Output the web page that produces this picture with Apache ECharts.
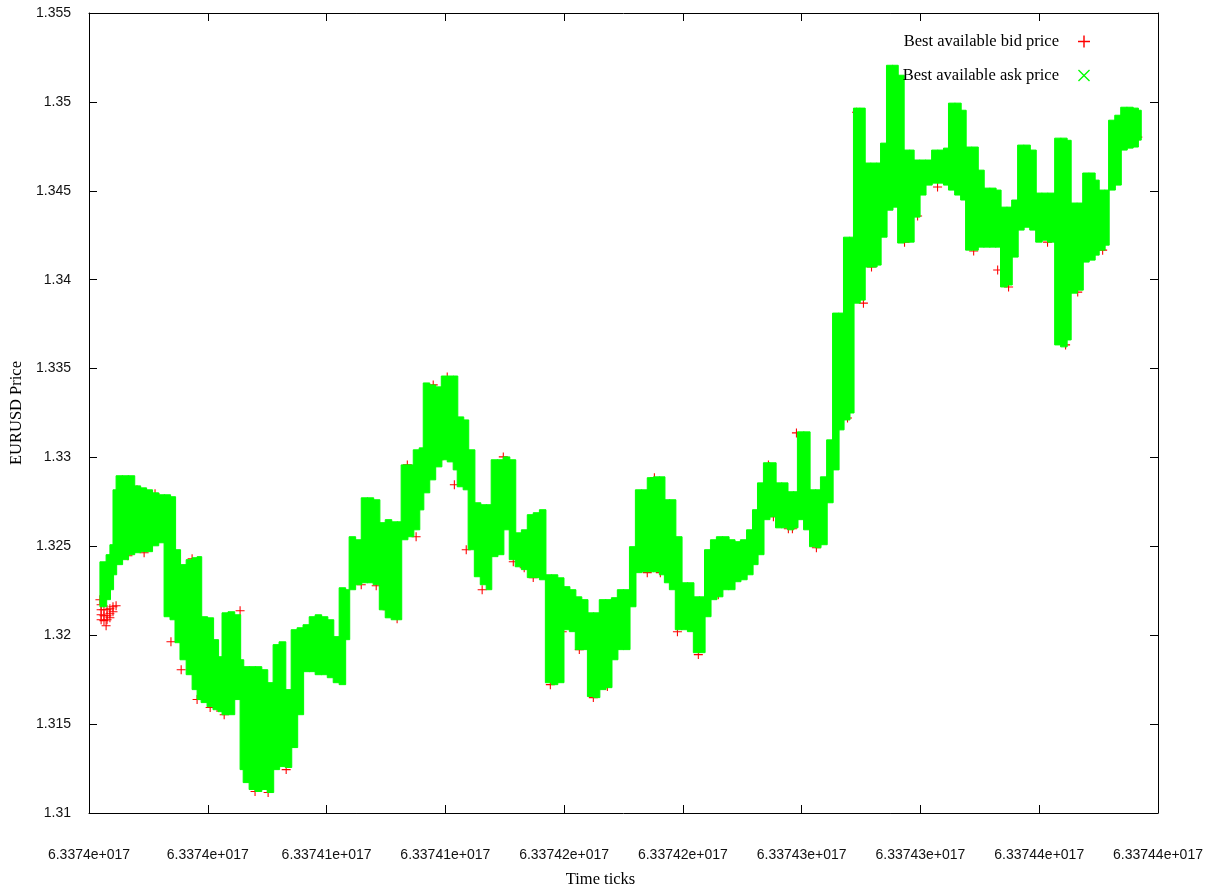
<!DOCTYPE html>
<html><head><meta charset="utf-8">
<script src="https://cdn.jsdelivr.net/npm/echarts@6/dist/echarts.min.js"></script>
<style>html,body{margin:0;padding:0;background:#fff}#c{width:1213px;height:893px}</style>
</head><body><div id="c"></div>
<script>
// x tick labels (time ticks, every 5e11 from 6.3374e17)
const TICK_LABELS = ["6.3374e+017","6.3374e+017","6.33741e+017","6.33741e+017","6.33742e+017","6.33742e+017","6.33743e+017","6.33743e+017","6.33744e+017","6.33744e+017"];
// sample start times, in units of 1e11 ticks after 6.3374e17
const TIME = [0.46,0.72,0.88,1.01,1.14,1.39,1.64,1.90,2.15,2.40,2.65,2.91,3.16,3.41,3.62,3.83,4.09,4.34,4.55,4.72,4.97,5.22,5.43,5.60,5.85,6.11,6.36,6.49,6.74,6.99,7.25,7.50,7.75,8.00,8.26,8.51,8.76,9.01,9.27,9.52,9.77,10.03,10.28,10.53,10.78,10.95,11.20,11.46,11.71,11.96,12.22,12.47,12.72,12.97,13.14,13.40,13.65,13.90,14.07,14.32,14.57,14.83,15.08,15.33,15.50,15.75,15.96,16.22,16.47,16.72,16.93,17.19,17.44,17.69,17.94,18.20,18.45,18.70,18.96,19.21,19.46,19.71,19.97,20.22,20.47,20.72,20.98,21.23,21.48,21.74,21.99,22.24,22.49,22.75,23.00,23.25,23.50,23.76,24.01,24.22,24.43,24.68,24.94,25.19,25.44,25.69,25.91,26.16,26.41,26.66,26.92,27.17,27.42,27.68,27.93,28.14,28.39,28.64,28.90,29.15,29.40,29.65,29.82,30.08,30.33,30.58,30.79,31.05,31.30,31.55,31.76,32.01,32.18,32.44,32.65,32.90,33.15,33.32,33.57,33.82,34.04,34.29,34.54,34.71,34.96,35.21,35.47,35.72,35.97,36.18,36.44,36.69,36.90,37.15,37.41,37.66,37.91,38.16,38.37,38.63,38.84,39.09,39.34,39.60,39.85,40.10,40.35,40.65,40.90,41.15,41.32,41.58,41.83,42.08,42.33,42.50,42.75,42.92,43.18,43.43,43.68,43.93,44.15];
const TIME_END = 44.27;
// best available ask price: highest and lowest in each sample window
const ASK_HIGH = [1.32413,1.32453,1.32509,1.32818,1.32897,1.32897,1.32897,1.32840,1.32829,1.32818,
1.32801,1.32790,1.32790,1.32779,1.32481,1.32397,1.32425,1.32436,1.32442,1.32104,
1.32098,1.31975,1.31879,1.32126,1.32132,1.32115,1.31862,1.31823,1.31823,1.31823,
1.31806,1.31733,1.31947,1.31963,1.31694,1.32031,1.32042,1.32059,1.32104,1.32115,
1.32104,1.32087,1.31992,1.32267,1.32256,1.32554,1.32537,1.32773,1.32773,1.32762,
1.32633,1.32650,1.32638,1.32638,1.32958,1.32958,1.33043,1.33054,1.33419,1.33408,
1.33397,1.33458,1.33458,1.33458,1.33228,1.33211,1.33043,1.32745,1.32734,1.32734,
1.32987,1.32987,1.33003,1.32987,1.32576,1.32593,1.32678,1.32689,1.32706,1.32340,
1.32340,1.32323,1.32273,1.32256,1.32216,1.32200,1.32126,1.32126,1.32200,1.32200,
1.32211,1.32256,1.32256,1.32498,1.32818,1.32818,1.32886,1.32891,1.32891,1.32762,
1.32762,1.32554,1.32295,1.32295,1.32216,1.32216,1.32481,1.32537,1.32554,1.32554,
1.32537,1.32526,1.32537,1.32593,1.32706,1.32857,1.32970,1.32970,1.32857,1.32857,
1.32807,1.32807,1.33144,1.33144,1.32818,1.32818,1.32891,1.33099,1.33812,1.33812,
1.34239,1.34239,1.34965,1.34965,1.34656,1.34656,1.34656,1.34768,1.35206,1.35206,
1.35150,1.34729,1.34729,1.34673,1.34673,1.34673,1.34729,1.34729,1.34740,1.34993,
1.34993,1.34953,1.34746,1.34746,1.34616,1.34515,1.34515,1.34504,1.34408,1.34408,
1.34448,1.34757,1.34757,1.34729,1.34487,1.34487,1.34487,1.34796,1.34796,1.34784,
1.34431,1.34431,1.34600,1.34600,1.34560,1.34504,1.34504,1.34897,1.34925,1.34970,
1.34970,1.34965,1.34953];
const ASK_LOW = [1.32160,1.32200,1.32256,1.32340,1.32397,1.32425,1.32453,1.32464,1.32470,1.32470,
1.32503,1.32520,1.32104,1.32087,1.31958,1.31862,1.31778,1.31694,1.31638,1.31621,
1.31598,1.31581,1.31570,1.31553,1.31553,1.31638,1.31244,1.31171,1.31132,1.31121,
1.31132,1.31115,1.31244,1.31261,1.31256,1.31368,1.31553,1.31795,1.31795,1.31778,
1.31778,1.31761,1.31733,1.31722,1.31975,1.32256,1.32284,1.32295,1.32295,1.32284,
1.32143,1.32098,1.32087,1.32087,1.32537,1.32554,1.32593,1.32705,1.32801,1.32874,
1.32947,1.32987,1.32975,1.32930,1.32835,1.32818,1.32481,1.32329,1.32284,1.32256,
1.32442,1.32453,1.32593,1.32425,1.32385,1.32369,1.32324,1.32324,1.32312,1.31733,
1.31722,1.31733,1.32031,1.32020,1.31919,1.31919,1.31655,1.31649,1.31694,1.31705,
1.31862,1.31919,1.31919,1.32160,1.32352,1.32357,1.32357,1.32357,1.32340,1.32295,
1.32256,1.32031,1.32031,1.32020,1.31902,1.31902,1.32104,1.32200,1.32216,1.32256,
1.32256,1.32301,1.32312,1.32340,1.32397,1.32453,1.32650,1.32666,1.32604,1.32604,
1.32593,1.32604,1.32650,1.32593,1.32498,1.32492,1.32509,1.32745,1.32930,1.33155,
1.33211,1.33250,1.33868,1.33885,1.34071,1.34071,1.34082,1.34239,1.34391,1.34408,
1.34206,1.34211,1.34211,1.34352,1.34476,1.34532,1.34543,1.34543,1.34532,1.34504,
1.34476,1.34448,1.34166,1.34166,1.34183,1.34183,1.34183,1.34183,1.33959,1.33970,
1.34127,1.34279,1.34295,1.34279,1.34211,1.34222,1.34211,1.33633,1.33622,1.33661,
1.33924,1.33941,1.34099,1.34110,1.34138,1.34166,1.34194,1.34504,1.34532,1.34729,
1.34740,1.34746,1.34785];
// visible best available bid price points
const BID_TIME = [0.51,0.63,0.76,0.88,1.01,1.14,0.51,0.63,0.76,0.88,1.01,0.51,0.63,0.76,0.88,0.72,0.46,0.51,
1.64,2.32,2.02,2.78,3.88,4.55,5.10,5.39,5.69,3.45,6.99,7.54,8.30,6.36,4.34,11.46,12.09,12.55,12.97,13.77,14.74,15.38,15.88,16.55,14.49,15.08,13.40,17.86,18.32,18.70,19.42,19.92,20.64,21.23,21.82,23.50,24.05,24.77,25.65,26.49,23.80,17.44,28.81,29.44,29.61,30.62,31.93,32.60,32.94,28.60,29.78,32.31,27.34,34.33,34.88,35.72,36.27,37.24,37.62,38.25,38.71,40.35,40.86,41.11,41.62,42.67,43.93,44.15];
const BID_PRICE = [1.32143,1.32143,1.32143,1.32149,1.32160,1.32166,1.32115,1.32110,1.32110,1.32121,1.32132,1.32087,1.32082,1.32087,1.32098,1.32053,1.32200,1.32171,
1.32447,1.32464,1.32818,1.32796,1.31806,1.31638,1.31593,1.31593,1.31553,1.31963,1.31121,1.31115,1.31244,1.32138,1.32430,1.32284,1.32278,1.32143,1.32093,1.32554,1.32987,1.32846,1.32481,1.32256,1.33408,1.33453,1.32958,1.32413,1.32380,1.32324,1.31722,1.32020,1.31919,1.31649,1.31711,1.32352,1.32352,1.32020,1.31891,1.32228,1.32886,1.33003,1.32666,1.32599,1.32599,1.32492,1.33222,1.33868,1.34071,1.32958,1.33138,1.34942,1.32340,1.34211,1.34358,1.34521,1.34543,1.34161,1.34222,1.34054,1.33959,1.34211,1.34768,1.33633,1.33930,1.34166,1.34768,1.34802];

const PLUS = 'path://M0,4.4H10V5.6H0Z M4.4,0H5.6V10H4.4Z';
const CROSS = 'path://M0,0.8L0.8,0L10,9.2L9.2,10Z M9.2,0L10,0.8L0.8,10L0,9.2Z';

const askData = TIME.map((t, i) => [t, i + 1 < TIME.length ? TIME[i + 1] : TIME_END, ASK_LOW[i], ASK_HIGH[i]]);
const bidData = BID_TIME.map((t, i) => [t, BID_PRICE[i]]);

const tickFont = {fontFamily: 'Liberation Sans', fontSize: 14, color: '#111'};
const axisCommon = {
  axisLine: {show: true, onZero: false, lineStyle: {color: '#000', width: 1}},
  axisTick: {show: true, inside: true, length: 8, lineStyle: {color: '#000', width: 1}},
  splitLine: {show: false}
};

const chart = echarts.init(document.getElementById('c'), null, {renderer: 'canvas'});
chart.setOption({
  animation: false,
  backgroundColor: '#fff',
  grid: {left: 89, right: 55, top: 13, bottom: 79},
  legend: {
    orient: 'vertical', right: 118, top: 28, align: 'right',
    itemWidth: 12, itemHeight: 12, itemGap: 17,
    textStyle: {fontFamily: 'Liberation Serif', fontSize: 16.5, color: '#000', padding: [0, 14, 0, 0]},
    data: [{name: 'Best available bid price', icon: PLUS}, {name: 'Best available ask price', icon: CROSS}]
  },
  xAxis: [
    Object.assign({type: 'value', min: 0, max: 45, interval: 5, position: 'bottom',
      axisLabel: Object.assign({margin: 35, formatter: v => TICK_LABELS[Math.round(v / 5)]}, tickFont),
      name: 'Time ticks', nameLocation: 'middle', nameGap: 58,
      nameTextStyle: {fontFamily: 'Liberation Serif', fontSize: 16.5, color: '#000', padding: [0, 46, 0, 0]}}, axisCommon),
    Object.assign({type: 'value', min: 0, max: 45, interval: 5, position: 'top', axisLabel: {show: false}}, axisCommon)
  ],
  yAxis: [
    Object.assign({type: 'value', min: 1.31, max: 1.355, interval: 0.005, position: 'left',
      axisLabel: Object.assign({margin: 18}, tickFont),
      name: 'EURUSD Price', nameLocation: 'middle', nameGap: 60, nameRotate: 90,
      nameTextStyle: {fontFamily: 'Liberation Serif', fontSize: 16.5, color: '#000'}}, axisCommon),
    Object.assign({type: 'value', min: 1.31, max: 1.355, interval: 0.005, position: 'right', axisLabel: {show: false}}, axisCommon)
  ],
  series: [
    {
      name: 'Best available bid price', type: 'scatter', z: 2,
      symbol: PLUS, symbolSize: 9,
      itemStyle: {color: '#ff0000', opacity: 1},
      data: bidData
    },
    {
      name: 'Best available ask price', type: 'custom', z: 3,
      itemStyle: {color: '#00ff00'},
      encode: {x: [0, 1], y: [2, 3]},
      renderItem: function (params, api) {
        const p0 = api.coord([api.value(0), api.value(3)]);
        const p1 = api.coord([api.value(1), api.value(2)]);
        return {type: 'rect', shape: {x: p0[0], y: p0[1], width: p1[0] - p0[0] + 0.6, height: p1[1] - p0[1]},
          style: {fill: '#00ff00', stroke: '#00ff00', lineWidth: 1}};
      },
      data: askData
    }
  ]
});
</script></body></html>
